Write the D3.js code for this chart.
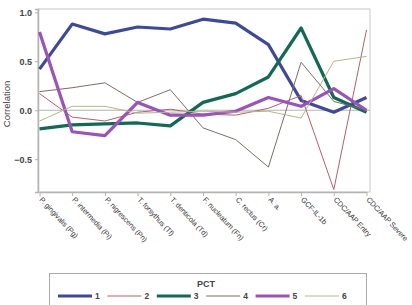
<!DOCTYPE html>
<html>
<head>
<meta charset="utf-8">
<script src="https://cdn.jsdelivr.net/npm/d3@7"></script>
<style>
  body { margin: 0; background: #fff; }
  text { font-family: "Liberation Sans", Arial, sans-serif; }
</style>
</head>
<body>
<svg id="chart" width="412" height="305"></svg>
<script>
// categories on x
const categories = ['P. gingivalis (Pg)', 'P. intermedia (Pi)', 'P. nigrescens (Pn)', 'T. forsythus (Tf)',
  'T. denticola (Td)', 'F. nucleatum (Fn)', 'C. rectus (Cr)', 'A. a.', 'GCF-IL-1b', 'CDC/AAP Entry', 'CDC/AAP Severe']

const pct1 = [0.42, 0.88, 0.78, 0.85, 0.83, 0.93, 0.89, 0.67, 0.10, -0.02, 0.13]
const pct2 = [0.17, -0.07, -0.11, -0.02, 0.01, -0.04, -0.05, 0.02, 0.15, -0.81, 0.82]
const pct3 = [-0.19, -0.15, -0.14, -0.13, -0.16, 0.08, 0.17, 0.34, 0.84, 0.13, -0.02]
const pct4 = [0.19, 0.23, 0.28, 0.08, 0.21, -0.18, -0.30, -0.58, 0.49, 0.09, 0.0]
const pct5 = [0.80, -0.22, -0.26, 0.08, -0.05, -0.05, -0.01, 0.13, 0.04, 0.22, 0.0]
const pct6 = [-0.11, 0.04, 0.04, -0.03, -0.02, -0.01, -0.02, -0.01, -0.08, 0.50, 0.55]

const seriesNames = ['1', '2', '3', '4', '5', '6']
const yTicks = [-0.5, 0.0, 0.5, 1.0]

const series = [
  {name: '1', values: pct1, color: '#3d4a9c', width: 3.2},
  {name: '2', values: pct2, color: '#b5606c', width: 1},
  {name: '3', values: pct3, color: '#0f6b53', width: 3.2},
  {name: '4', values: pct4, color: '#7b6e66', width: 1},
  {name: '5', values: pct5, color: '#9a52bd', width: 3.2},
  {name: '6', values: pct6, color: '#b4b887', width: 1}
]

const svg = d3.select('#chart')
const plotLeft = 38, plotRight = 370, plotTop = 9, plotBottom = 192

let x = d3.scalePoint()
  .domain(categories)
  .range([39.5, 366.5])

let y = d3.scaleLinear()
  .domain([-0.835, 1.034])
  .range([plotBottom, plotTop])

// frame
svg.append('rect')
  .attr('x', plotLeft).attr('y', plotTop)
  .attr('width', plotRight - plotLeft).attr('height', plotBottom - plotTop)
  .attr('fill', 'none').attr('stroke', '#c8c8c8').attr('stroke-width', 1)

// zero reference
svg.append('line')
  .attr('x1', plotLeft).attr('x2', plotRight)
  .attr('y1', y(0)).attr('y2', y(0))
  .attr('stroke', '#b4b4b4').attr('stroke-width', 1)

// y axis
let yAxis = svg.append('g')
  .attr('transform', `translate(${plotLeft},0)`)
  .call(d3.axisLeft(y).tickValues(yTicks).tickFormat(d3.format('.1f')).tickSize(3))
yAxis.select('.domain').attr('stroke', '#b4b4b4').attr('stroke-width', 1.5)
yAxis.selectAll('.tick line').attr('stroke', '#b4b4b4')
yAxis.selectAll('.tick text').attr('fill', '#444').attr('font-size', 9).attr('font-weight', 'bold')

// x axis
let xAxis = svg.append('g')
  .attr('transform', `translate(0,${plotBottom})`)
  .call(d3.axisBottom(x).tickSize(4).tickSizeOuter(0))
xAxis.select('.domain').attr('stroke', '#b4b4b4').attr('stroke-width', 1.5)
xAxis.selectAll('.tick line').attr('stroke', '#b4b4b4')
xAxis.selectAll('.tick text')
  .attr('fill', '#333')
  .attr('font-size', 7.4)
  .attr('letter-spacing', -0.1)
  .attr('text-anchor', 'start')
  .attr('dy', 0)
  .attr('y', 0)
  .attr('transform', 'translate(-1,8) rotate(47)')

// y label
svg.append('text')
  .attr('transform', 'translate(10,104) rotate(-90)')
  .attr('text-anchor', 'middle')
  .attr('font-size', 9.5)
  .attr('fill', '#444')
  .text('Correlation')

// lines
let line = d3.line()
  .x((d, i) => x(categories[i]))
  .y(d => y(d))

svg.selectAll('path.series')
  .data(series)
  .enter()
  .append('path')
  .attr('class', 'series')
  .attr('d', d => line(d.values))
  .attr('fill', 'none')
  .attr('stroke', d => d.color)
  .attr('stroke-width', d => d.width)
  .attr('stroke-linejoin', 'round')

// legend
svg.append('rect')
  .attr('x', 49.5).attr('y', 273.5)
  .attr('width', 317).attr('height', 40)
  .attr('fill', 'none').attr('stroke', '#aaa').attr('stroke-width', 1)

svg.append('text')
  .attr('x', 206).attr('y', 287)
  .attr('text-anchor', 'middle')
  .attr('font-size', 9)
  .attr('font-weight', 'bold')
  .attr('fill', '#444')
  .text('PCT')

let legendX = d3.scalePoint().domain(seriesNames).range([58, 305])

let items = svg.selectAll('g.leg')
  .data(series)
  .enter()
  .append('g')
  .attr('class', 'leg')
  .attr('transform', d => `translate(${legendX(d.name)},296)`)

items.append('line')
  .attr('x1', 0).attr('x2', 34)
  .attr('stroke', d => d.color)
  .attr('stroke-width', d => d.width)

items.append('text')
  .attr('x', 37).attr('y', 3)
  .attr('font-size', 8.5)
  .attr('font-weight', 'bold')
  .attr('fill', '#444')
  .text(d => d.name)
</script>
</body>
</html>
